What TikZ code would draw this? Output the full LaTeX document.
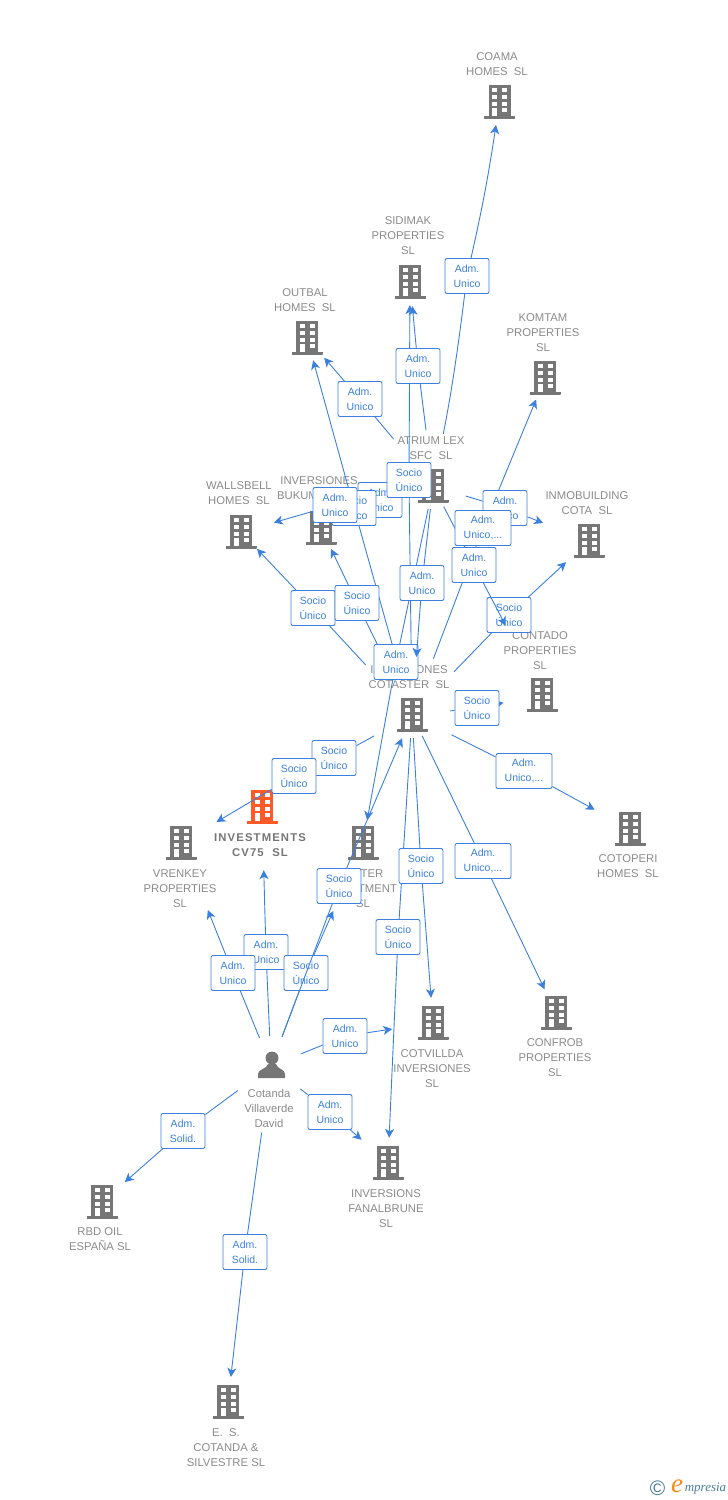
\documentclass[tikz,border=0pt]{standalone}
\usepackage{fontspec}
\setmainfont{Liberation Sans}
\newfontfamily\titlefont[LetterSpace=10]{Liberation Sans}
\newfontfamily\logofont{Liberation Serif}
\usetikzlibrary{arrows.meta}

\definecolor{linkblue}{HTML}{3B80DE}
\definecolor{icongray}{HTML}{767676}
\definecolor{captiongray}{HTML}{8A8A8A}
\definecolor{iconorange}{HTML}{FF5A26}
\definecolor{logoblue}{HTML}{4A7F9A}
\definecolor{logoorange}{HTML}{F58A1F}

\pgfdeclarelayer{boxes}
\pgfsetlayers{main,boxes}

\begin{document}
\begin{tikzpicture}[x=1pt,y=-1pt,
    building/.style={circle,minimum size=46pt,inner sep=0pt,
        path picture={
            \begin{scope}[shift={(path picture bounding box.center)}]
            \fill[#1] (-11,-17) rectangle (11,14);
            \fill[#1] (-15.5,14) rectangle (15.5,17);
            \foreach \wy/\wh in {-13.7/4,-7/4.3,-0.3/4.3}{
                \fill[white] (-7.5,\wy) rectangle ++(5,\wh);
                \fill[white] (2.5,\wy) rectangle ++(5,\wh);
            }
            \fill[white] (-7.5,6.3) rectangle (-2.5,14);
            \fill[white] (2.5,6.3) rectangle (7.5,10.3);
            \end{scope}}},
    building/.default=icongray,
    person/.style={circle,minimum size=46pt,inner sep=0pt,
        path picture={
            \begin{scope}[shift={(path picture bounding box.center)}]
            \fill[icongray] (1,-8) circle (6.5);
            \fill[icongray] (-13,12)--(-13,8) .. controls (-13,3) and (-4,3) .. (-3,-2)
                --(5,-2) .. controls (6,3) and (14,3) .. (14,8)--(14,12)--cycle;
            \end{scope}}},
    caption/.style={align=center,inner sep=0pt,text=captiongray,
        font={\fontsize{11.3}{15}\selectfont}},
    titlecaption/.style={align=center,inner sep=0pt,text=icongray,
        font={\fontsize{11.3}{15}\titlefont\bfseries}},
    linkbox/.style={draw=linkblue,fill=white,rounded corners=2pt,line width=0.9pt,
        align=center,inner sep=0pt,minimum width=44pt,minimum height=35pt,text=linkblue,
        font={\fontsize{10.5}{15}\selectfont}},
    link/.style={draw=linkblue,line width=0.9pt,->,>={Stealth[length=9pt,width=9pt,inset=2.5pt]}},
    stub/.style={draw=linkblue,line width=0.9pt}]

\useasboundingbox (0,0) rectangle (728,1500);

% companies
\node[building] (coama) at (499.5,102) {};
\node[building] (sidimak) at (410,282) {};
\node[building] (outbal) at (307,338) {};
\node[building] (komtam) at (545,378) {};
\node[building] (atrium) at (433,486) {};
\node[building] (wallsbell) at (241,532) {};
\node[building] (bukum) at (321,528) {};
\node[building] (inmobuilding) at (589,541) {};
\node[building] (contado) at (542,695) {};
\node[building] (cotaster) at (412,715) {};
\node[building] (cotoperi) at (630,829) {};
\node[building=iconorange] (cv75) at (262,807) {};
\node[building] (vrenkey) at (181,843) {};
\node[building] (investment) at (363,843) {};
\node[building] (cotvillda) at (433,1023) {};
\node[building] (confrob) at (556,1013) {};
\node[building] (fanalbrune) at (388,1163) {};
\node[building] (rbd) at (102,1202) {};
\node[building] (silvestre) at (228,1402) {};
\node[person] (cotanda) at (271,1066) {};

\node[caption] (coamatext) at (497,64) {COAMA\\HOMES\ \ SL};
\node[caption] (sidimaktext) at (408,236) {SIDIMAK\\PROPERTIES\\SL};
\node[caption] (outbaltext) at (305,300.5) {OUTBAL\\HOMES\ \ SL};
\node[caption] (komtamtext) at (543,333) {KOMTAM\\PROPERTIES\\SL};
\node[caption] (atriumtext) at (431,448.5) {ATRIUM LEX\\SFC\ \ SL};
\node[caption] (wallsbelltext) at (239,493) {WALLSBELL\\HOMES\ \ SL};
\node[caption] (bukumtext) at (319,488) {INVERSIONES\\BUKUM\hspace*{43pt}};
\node[caption] (inmobuildingtext) at (587,503.5) {INMOBUILDING\\COTA\ \ SL};
\node[caption] (contadotext) at (540,651) {CONTADO\\PROPERTIES\\SL};
\node[caption] (cotastertext) at (409,677.5) {INVERSIONES\\COTASTER\ \ SL};
\node[caption] (cotoperitext) at (628,866.5) {COTOPERI\\HOMES\ \ SL};
\node[titlecaption] (cv75text) at (260,845) {INVESTMENTS\\CV75\ \ SL};
\node[caption] (vrenkeytext) at (180,889) {VRENKEY\\PROPERTIES\\SL};
\node[caption] (investmenttext) at (363,889) {\hspace*{18pt}TER\\\hspace*{29pt}TMENT\\SL};
\node[caption] (cotvilldatext) at (432,1069) {COTVILLDA\\INVERSIONES\\SL};
\node[caption] (confrobtext) at (555,1058) {CONFROB\\PROPERTIES\\SL};
\node[caption] (cotandatext) at (269,1108.5) {Cotanda\\Villaverde\\David};
\node[caption] (fanalbrunetext) at (386,1209) {INVERSIONS\\FANALBRUNE\\SL};
\node[caption] (rbdtext) at (100,1239.5) {RBD OIL\\ESPAÑA SL};
\node[caption] (silvestretext) at (226,1448) {E.\ \ S.\\COTANDA \&\\SILVESTRE SL};

% role boxes
\begin{pgfonlayer}{boxes}
\node[linkbox] (coamarole) at (467,276) {Adm.\\Unico};
\node[linkbox] (sidimakrole) at (418,366) {Adm.\\Unico};
\node[linkbox] (outbalrole) at (360,399) {Adm.\\Unico};
\node[linkbox] (wallsbellrole) at (380,500) {Adm.\\Unico};
\node[linkbox] (outbalsocio) at (354,508) {Socio\\Único};
\node[linkbox] (wallsbellsecond) at (335,505) {Adm.\\Unico};
\node[linkbox] (sidimaksocio) at (409,480) {Socio\\Único};
\node[linkbox] (inmobuildingrole) at (505,508) {Adm.\\Unico};
\node[linkbox,minimum width=56pt] (komtamrole) at (483,528) {Adm.\\Unico,...};
\node[linkbox] (cotasterrole) at (422,583) {Adm.\\Unico};
\node[linkbox] (contadorole) at (474,565) {Adm.\\Unico};
\node[linkbox] (wallsbellsocio) at (313,608) {Socio\\Único};
\node[linkbox] (bukumsocio) at (357,603) {Socio\\Único};
\node[linkbox] (inmobuildingsocio) at (509,615) {Socio\\Único};
\node[linkbox] (investmentrole) at (396,662) {Adm.\\Unico};
\node[linkbox] (contadosocio) at (477,708) {Socio\\Único};
\node[linkbox,minimum width=56pt] (cotoperirole) at (524,771) {Adm.\\Unico,...};
\node[linkbox] (vrenkeysecond) at (334,758) {Socio\\Único};
\node[linkbox] (vrenkeysocio) at (294,776) {Socio\\Único};
\node[linkbox,minimum width=56pt] (confrobrole) at (483,861) {Adm.\\Unico,...};
\node[linkbox] (cotvilldasocio) at (421,866) {Socio\\Único};
\node[linkbox] (cotastersocio) at (339,886) {Socio\\Único};
\node[linkbox] (fanalbrunesocio) at (398,937) {Socio\\Único};
\node[linkbox] (cv75role) at (266,952) {Adm.\\Unico};
\node[linkbox] (vrenkeyrole) at (233,973) {Adm.\\Unico};
\node[linkbox] (investmentsocio) at (306,973) {Socio\\Único};
\node[linkbox] (cotvilldarole) at (345,1036) {Adm.\\Unico};
\node[linkbox] (fanalbrunerole) at (330,1112) {Adm.\\Unico};
\node[linkbox] (rbdrole) at (183,1131) {Adm.\\Solid.};
\node[linkbox] (silvestrerole) at (245,1252) {Adm.\\Solid.};
\end{pgfonlayer}

% connectors
\draw[stub,shorten <=30pt] (atrium) to[bend right=2] (coamarole);
\draw[link] (coamarole) to[bend right=2] (coama);
\draw[stub,shorten <=33pt] (atrium)--(sidimakrole);
\draw[link,shorten >=1pt] (sidimakrole)--(sidimak);
\draw[stub,shorten <=38pt] (atrium)--(outbalrole);
\draw[link,shorten >=3pt] (outbalrole)--(outbal);
\draw[stub,shorten <=14pt] (atrium)--(wallsbellrole);
\draw[stub] (wallsbellrole)--(wallsbellsecond);
\draw[link,shorten >=11pt] (wallsbellsecond)--(wallsbell);
\draw[stub,shorten <=11pt] (atrium)--(inmobuildingrole);
\draw[link,shorten >=26pt] (inmobuildingrole)--(inmobuilding);
\draw[stub] (atrium)--(contadorole);
\draw[stub] (atrium)--(cotasterrole);
\draw[stub] (atrium)--(investmentrole);
\draw[link] (investmentrole)--(investment);

\draw[stub,shorten <=40pt] (cotaster)--(sidimaksocio);
\draw[link] (sidimaksocio)--(sidimak);
\draw[stub,shorten <=42pt] (cotaster)--(outbalsocio);
\draw[link] (outbalsocio)--(outbal);
\draw[stub,shorten <=45pt] (cotaster)--(wallsbellsocio);
\draw[link] (wallsbellsocio)--(wallsbell);
\draw[stub,shorten <=39pt] (cotaster)--(bukumsocio);
\draw[link] (bukumsocio)--(bukum);
\draw[stub,shorten <=37pt] (cotaster)--(komtamrole);
\draw[link] (komtamrole)--(komtam);
\draw[stub,shorten <=37pt] (cotaster)--(inmobuildingsocio);
\draw[link,shorten >=8pt] (inmobuildingsocio)--(inmobuilding);
\draw[stub,shorten <=15pt] (cotaster)--(contadosocio);
\draw[link,shorten >=16pt] (contadosocio)--(contado);
\draw[stub,shorten <=21pt] (cotaster)--(cotoperirole);
\draw[link,shorten >=17pt] (cotoperirole)--(cotoperi);
\draw[stub] (cotaster)--(confrobrole);
\draw[link,shorten >=3pt] (confrobrole)--(confrob);
\draw[stub] (cotaster)--(cotvilldasocio);
\draw[link,shorten >=2pt] (cotvilldasocio)--(cotvillda);
\draw[stub] (cotaster)--(fanalbrunesocio);
\draw[link,shorten >=2pt] (fanalbrunesocio)--(fanalbrune);
\draw[stub,shorten <=20pt] (cotaster)--(vrenkeysecond);
\draw[stub] (vrenkeysecond)--(vrenkeysocio);
\draw[link,shorten >=18pt] (vrenkeysocio)--(vrenkey);

\draw[stub,shorten <=7pt] (cotanda)--(cv75role);
\draw[link,shorten >=40pt] (cv75role)--(cv75);
\draw[stub,shorten <=7pt] (cotanda)--(vrenkeyrole);
\draw[link,shorten >=49pt] (vrenkeyrole)--(vrenkey);
\draw[stub,shorten <=9pt] (cotanda)--(cotvilldarole);
\draw[link,shorten >=18pt] (cotvilldarole)--(cotvillda);
\draw[stub,shorten <=14pt] (cotanda)--(fanalbrunerole);
\draw[link,shorten >=12pt] (fanalbrunerole)--(fanalbrune);
\draw[stub,shorten <=18pt] (cotanda)--(rbdrole);
\draw[link,shorten >=7pt] (rbdrole)--(rbd);
\draw[stub,shorten <=44pt] (cotanda)--(silvestrerole);
\draw[link,shorten >=2pt] (silvestrerole)--(silvestre);
\draw[stub,shorten <=8pt] (cotanda)--(investmentsocio);
\draw[link,shorten >=51pt] (investmentsocio)--(investment);
\draw[link,shorten >=2pt] (cotastersocio)--(cotaster);

% these run over the boxes
\begin{pgfonlayer}{boxes}
\draw[link,shorten >=55pt] (contadorole)--(contado);
\draw[link,shorten >=35pt] (cotasterrole)--(cotaster);
\draw[stub,shorten <=8pt] (cotanda)--(cotastersocio);
\end{pgfonlayer}

% logo
\node[inner sep=0pt,text=logoblue,font={\fontsize{21}{21}\selectfont}] (logomark) at (657.5,1488.5) {©};
\node[inner sep=0pt,text=logoorange,font={\fontsize{27}{27}\logofont\itshape}] (logoe) at (677,1486) {e};
\node[inner sep=0pt,text=logoblue,font={\fontsize{13}{13}\logofont\itshape}] (logoword) at (705.5,1489) {mpresia};

\end{tikzpicture}
\end{document}
